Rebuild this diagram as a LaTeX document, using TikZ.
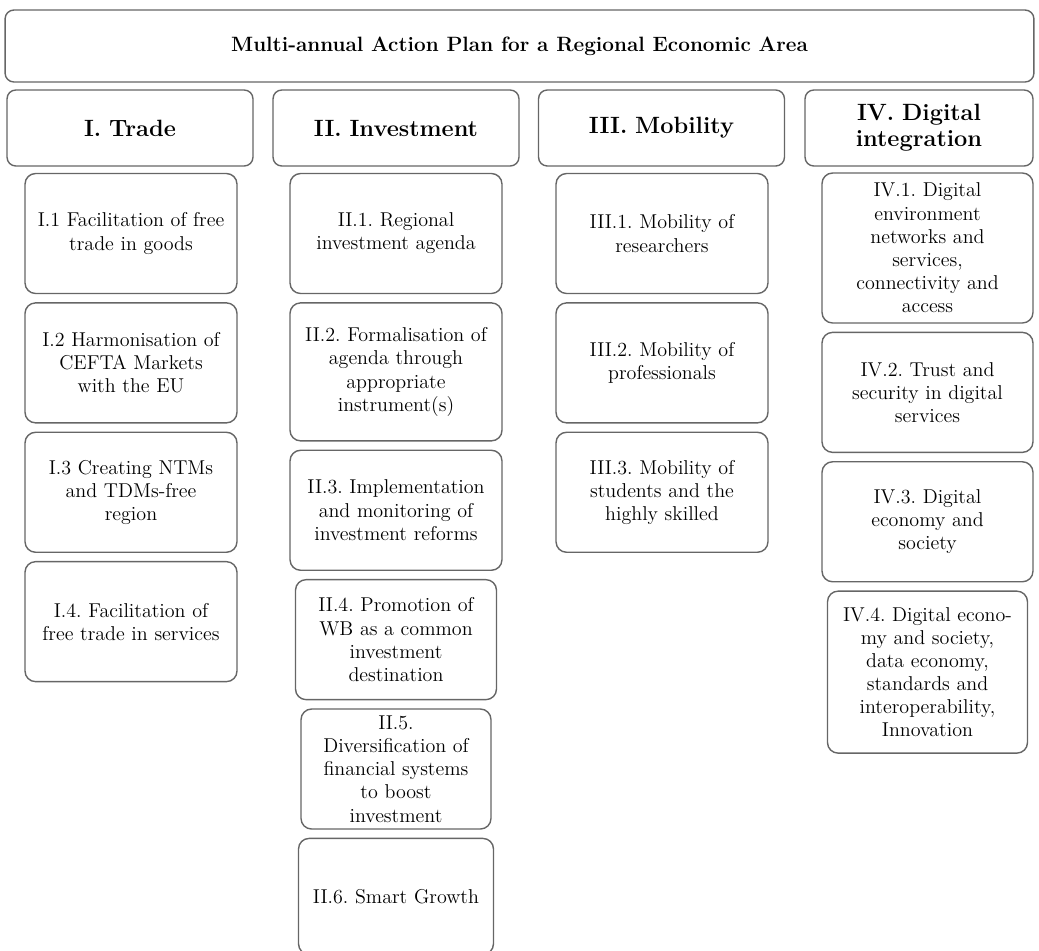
\documentclass[tikz,border=0pt]{standalone}
\usepackage{tikz}
\usetikzlibrary{positioning}

\newcommand{\plansize}{\fontsize{11.8}{14}\selectfont\bfseries}
\newcommand{\headsize}{\fontsize{13.4}{14.6}\selectfont\bfseries\frenchspacing}
\newcommand{\bodysize}{\fontsize{11.4}{13.2}\selectfont\frenchspacing}

\begin{document}
\begin{tikzpicture}[
				x=0.02cm, y=-0.02cm,
				node distance = 0.16cm,
				plan/.style={
					rectangle,
					draw=black!60,
					line width=0.8pt,
					rounded corners=5pt,
					minimum width=20.58cm,
					minimum height=1.44cm,
					font=\plansize
					},
				head/.style={
					rectangle,
					draw=black!60,
					line width=0.8pt,
					rounded corners=5pt,
					text width=4.4cm,
					align=center,
					minimum width=4.92cm,
					minimum height=1.52cm,
					inner sep=1pt,
					font=\headsize
					},
				item/.style={
					rectangle,
					draw=black!60,
					line width=0.8pt,
					rounded corners=6pt,
					text width=3.8cm,
					align=center,
					minimum width=4.24cm,
					minimum height=2.4cm,
					inner sep=1pt,
					font=\bodysize
					}]
			    \useasboundingbox (0,0) rectangle (1039,951);
			    % Place nodes
			    \node [plan] (plan) at (519.5,46) {Multi-annual Action Plan for a Regional Economic Area};

			    \node [head] (trade) at (130,128) {I. Trade};
			    \node [head] (invest) at (396,128) {II. Investment};
			    \node [head] (mobil) at (661.5,128) {III. Mobility};
			    \node [head, minimum width=4.56cm] (digital) at (919,128) {IV. Digital\\integration};

			    % Trade
			    \node [item] (t1) at (131,233.5) {I.1 Facilitation of free\\trade in goods};
			    \node [item, below=of t1] (t2) {I.2 Harmonisation of\\CEFTA Markets\\with the EU};
			    \node [item, below=of t2] (t3) {I.3 Creating NTMs\\and TDMs-free\\region};
			    \node [item, below=of t3] (t4) {I.4. Facilitation of\\free trade in services};

			    % Investment
			    \node [item] (i1) at (396,233.5) {II.1. Regional\\investment agenda};
			    \node [item, below=of i1, minimum height=2.76cm] (i2) {II.2. Formalisation of\\agenda through\\appropriate\\instrument(s)};
			    \node [item, below=of i2] (i3) {II.3. Implementation\\and monitoring of\\investment reforms};
			    \node [item, below=of i3, minimum width=4.02cm] (i4) {II.4. Promotion of\\WB as a common\\investment\\destination};
			    \node [item, below=of i4, minimum width=3.8cm, text width=3.6cm] (i5) {II.5.\\Diversification of\\financial systems\\to boost\\investment};
			    \node [item, below=of i5, minimum width=3.9cm, minimum height=2.32cm] (i6) {II.6. Smart Growth};

			    % Mobility
			    \node [item] (m1) at (662,233.5) {III.1. Mobility of\\researchers};
			    \node [item, below=of m1] (m2) {III.2. Mobility of\\professionals};
			    \node [item, below=of m2] (m3) {III.3. Mobility of\\students and the\\highly skilled};

			    % Digital integration
			    \node [item, minimum width=4.22cm, minimum height=3cm] (d1) at (927.5,248) {IV.1. Digital\\environment\\networks and\\services,\\connectivity and\\access};
			    \node [item, below=of d1, minimum width=4.22cm] (d2) {IV.2. Trust and\\security in digital\\services};
			    \node [item, below=of d2, minimum width=4.22cm] (d3) {IV.3. Digital\\economy and\\society};
			    \node [item, below=of d3, minimum width=4cm, minimum height=3.24cm] (d4) {IV.4. Digital econo-\\my and society,\\data economy,\\standards and\\interoperability,\\Innovation};
			\end{tikzpicture}
\end{document}
